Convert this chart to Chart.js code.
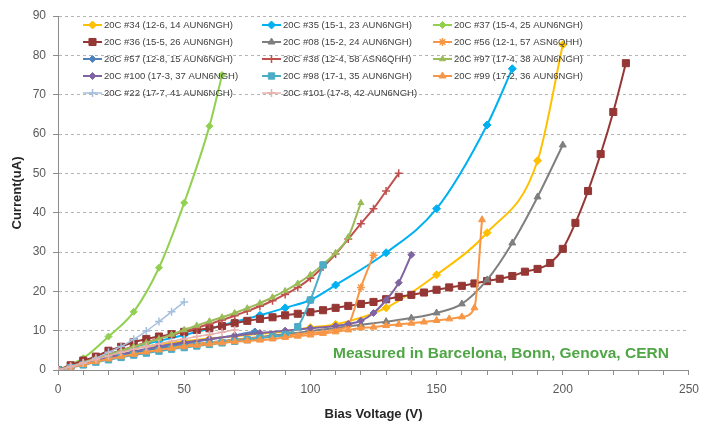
<!DOCTYPE html>
<html>
<head>
<meta charset="utf-8">
<script src="https://cdn.jsdelivr.net/npm/chart.js@4.4.1/dist/chart.umd.min.js"></script>
<style>
  html, body { margin: 0; padding: 0; background: #ffffff; }
  #iv { display: block; }
</style>
</head>
<body>
<canvas id="iv" width="706" height="424"></canvas>
<script>
// Leakage current (uA) versus bias voltage (V), one series per sensor

const v34 = [0, 10, 20, 30, 40, 50, 60, 70, 80, 90, 100, 110, 130, 150, 170, 190, 200];
const i34 = [0, 1.9, 3.7, 5.4, 6.5, 7.3, 8.0, 8.6, 9.2, 9.8, 10.8, 11.6, 15.8, 24.2, 34.9, 53.2, 82.7];

const v35 = [0, 10, 20, 30, 40, 50, 60, 70, 80, 90, 100, 110, 130, 150, 170, 180];
const i35 = [0, 2.0, 4.0, 5.8, 7.4, 8.9, 10.5, 12.2, 13.9, 15.8, 17.8, 21.6, 29.8, 41.0, 62.3, 76.6];

const v37 = [0, 10, 20, 30, 40, 50, 60, 65];
const i37 = [0, 3.0, 8.5, 14.8, 26.0, 42.5, 62.0, 75.0];

const v36 = [0, 5, 10, 15, 20, 25, 30, 35, 40, 45, 50, 55, 60, 65, 70, 75, 80, 85, 90, 95, 100, 105, 110,
             115, 120, 125, 130, 135, 140, 145, 150, 155, 160, 165, 170, 175, 180, 185, 190, 195, 200, 205,
             210, 215, 220, 225];
const i36 = [0, 1.2, 2.4, 3.4, 4.9, 5.9, 7.1, 7.9, 8.5, 9.1, 9.7, 10.2, 10.6, 11.2, 11.9, 12.5, 13.0, 13.4,
             13.9, 14.3, 14.7, 15.2, 15.8, 16.3, 16.8, 17.3, 18.0, 18.6, 19.1, 19.7, 20.4, 21.0, 21.4, 22.0,
             22.6, 23.2, 23.9, 25.0, 25.7, 27.2, 30.8, 37.4, 45.5, 54.9, 65.6, 78.0];

const v08 = [0, 10, 20, 30, 40, 50, 60, 70, 80, 90, 100, 110, 120, 130, 140, 150, 160, 170, 180, 190, 200];
const i08 = [0, 1.5, 3.0, 4.2, 5.3, 6.2, 7.0, 7.7, 8.4, 9.1, 9.9, 10.7, 11.5, 12.3, 13.2, 14.5, 16.8, 22.9,
             32.3, 44.0, 57.2];

const v56 = [0, 10, 20, 30, 40, 50, 60, 70, 80, 90, 100, 110, 115, 120, 125];
const i56 = [0, 1.5, 3.0, 4.3, 5.4, 6.3, 7.0, 7.6, 8.2, 8.8, 9.4, 10.2, 11.5, 21.0, 29.2];

const v57 = [0, 10, 20, 30, 40, 50, 60, 70, 78];
const i57 = [0, 1.6, 3.1, 4.4, 5.6, 6.7, 7.8, 8.8, 9.8];

const v38 = [0, 5, 10, 15, 20, 25, 30, 35, 40, 45, 50, 55, 60, 65, 70, 75, 80, 85, 90, 95, 100, 105, 110,
             115, 120, 125, 130, 135];
const i38 = [0, 1.0, 2.0, 3.0, 4.0, 5.0, 6.0, 7.0, 8.0, 8.9, 9.8, 10.7, 11.7, 12.7, 13.8, 15.0, 16.2, 17.6,
             19.2, 21.0, 23.3, 26.2, 29.5, 33.3, 37.2, 41.0, 45.5, 50.0];

const v97 = [0, 5, 10, 15, 20, 25, 30, 35, 40, 45, 50, 55, 60, 65, 70, 75, 80, 85, 90, 95, 100, 105, 110,
             115, 120];
const i97 = [0, 0.9, 1.9, 2.9, 3.9, 4.9, 5.9, 6.9, 7.9, 9.0, 10.2, 11.3, 12.4, 13.4, 14.5, 15.7, 17.0, 18.5,
             20.1, 22.0, 24.2, 26.8, 29.8, 33.8, 42.5];

const v100 = [0, 10, 20, 30, 40, 50, 60, 70, 80, 90, 100, 110, 115, 120, 125, 130, 135, 140];
const i100 = [0, 1.7, 3.3, 4.7, 6.0, 7.0, 7.9, 8.7, 9.4, 10.0, 10.6, 11.2, 11.7, 12.5, 14.5, 17.8, 22.2, 29.3];

const v98 = [0, 5, 10, 15, 20, 25, 30, 35, 40, 45, 50, 55, 60, 65, 70, 75, 80, 85, 90, 95, 100, 105];
const i98 = [0, 0.6, 1.3, 2.0, 2.6, 3.2, 3.8, 4.3, 4.8, 5.3, 5.7, 6.1, 6.5, 6.9, 7.3, 7.7, 8.1, 8.5, 9.0,
             11.0, 17.8, 26.7];

const v99 = [0, 5, 10, 15, 20, 25, 30, 35, 40, 45, 50, 55, 60, 65, 70, 75, 80, 85, 90, 95, 100, 105, 110,
             115, 120, 125, 130, 135, 140, 145, 150, 155, 160, 165, 168];
const i99 = [0, 0.7, 1.4, 2.1, 2.8, 3.4, 4.0, 4.6, 5.1, 5.5, 5.9, 6.3, 6.6, 6.9, 7.2, 7.4, 7.6, 7.9, 8.3,
             8.6, 8.9, 9.3, 9.7, 10.2, 10.7, 10.9, 11.3, 11.6, 11.9, 12.2, 12.6, 13.0, 13.5, 15.8, 38.2];

const v22 = [0, 5, 10, 15, 20, 25, 30, 35, 40, 45, 50];
const i22 = [0, 0.8, 1.8, 3.0, 4.5, 6.0, 7.8, 9.9, 12.3, 14.8, 17.3];

const v101 = [0, 5, 10, 15, 20, 25, 30, 35, 40, 45, 50, 55, 60, 65, 70];
const i101 = [0, 0.9, 1.8, 2.7, 3.6, 4.5, 5.3, 6.0, 6.7, 7.3, 7.9, 8.5, 9.0, 9.6, 10.2];

// series names, in legend order (three per row)
const sensorNames = [
  '20C #34 (12-6, 14 AUN6NGH)', '20C #35 (15-1, 23 AUN6NGH)', '20C #37 (15-4, 25 AUN6NGH)',
  '20C #36 (15-5, 26 AUN6NGH)', '20C #08 (15-2, 24 AUN6NGH)', '20C #56 (12-1, 57 ASN6QHH)',
  '20C #57 (12-8, 15 AUN6NGH)', '20C #38 (12-4, 58 ASN6QHH)', '20C #97 (17-4, 38 AUN6NGH)',
  '20C #100 (17-3, 37 AUN6NGH)', '20C #98 (17-1, 35 AUN6NGH)', '20C #99 (17-2, 36 AUN6NGH)',
  '20C #22 (17-7, 41 AUN6NGH)', '20C #101 (17-8, 42 AUN6NGH)'
];
const sensorVolts = [v34, v35, v37, v36, v08, v56, v57, v38, v97, v100, v98, v99, v22, v101];
const sensorAmps  = [i34, i35, i37, i36, i08, i56, i57, i38, i97, i100, i98, i99, i22, i101];

const xTicks = [0, 50, 100, 150, 200, 250];
const yTicks = [0, 10, 20, 30, 40, 50, 60, 70, 80, 90];

// line colour, marker shape, marker radius, line width
const looks = [
  { c: '#FFC000', s: 'rectRot',  r: 4,   w: 2 },
  { c: '#00B0F0', s: 'rectRot',  r: 4,   w: 2 },
  { c: '#92D050', s: 'rectRot',  r: 3.5, w: 2 },
  { c: '#953735', s: 'rect',     r: 5,   w: 2 },
  { c: '#7F7F7F', s: 'triangle', r: 4,   w: 2 },
  { c: '#F79646', s: 'star',     r: 4,   w: 2 },
  { c: '#4F81BD', s: 'rectRot',  r: 3.5, w: 2 },
  { c: '#C0504D', s: 'cross',    r: 4,   w: 2 },
  { c: '#9BBB59', s: 'triangle', r: 3.5, w: 2 },
  { c: '#8064A2', s: 'rectRot',  r: 3.5, w: 2 },
  { c: '#4BACC6', s: 'rect',     r: 4.5, w: 2 },
  { c: '#F79646', s: 'triangle', r: 4,   w: 2 },
  { c: '#A7BFDE', s: 'cross',    r: 4,   w: 1.5 },
  { c: '#E6B0AE', s: 'cross',    r: 4,   w: 1.5 }
];

const FONT = '"Liberation Sans", Arial, sans-serif';
Chart.defaults.font.family = FONT;

const datasets = sensorNames.map((name, k) => {
  const lk = looks[k];
  const crossLike = lk.s === 'cross' || lk.s === 'star' || lk.s === 'crossRot';
  return {
    label: name,
    data: sensorVolts[k].map((v, j) => ({ x: v, y: sensorAmps[k][j] })),
    borderColor: lk.c,
    backgroundColor: lk.c,
    borderWidth: lk.w,
    pointStyle: lk.s,
    pointRadius: lk.r,
    pointBackgroundColor: lk.c,
    pointBorderColor: lk.c,
    pointBorderWidth: crossLike ? 1.5 : 1,
    cubicInterpolationMode: 'monotone',
    fill: false,
    order: sensorNames.length - k
  };
});

// legend grid laid over the top of the plot, plus the measurement note
const overlay = {
  id: 'overlay',
  afterDatasetsDraw(chart) {
    const ctx = chart.ctx;
    const colX = [83, 262, 433];
    const rowY = [25, 42, 59, 76, 93];
    chart.data.datasets.forEach((ds, k) => {
      const x0 = colX[k % 3];
      const y = rowY[Math.floor(k / 3)];
      ctx.save();
      ctx.strokeStyle = ds.borderColor;
      ctx.lineWidth = ds.borderWidth;
      ctx.beginPath();
      ctx.moveTo(x0, y);
      ctx.lineTo(x0 + 19, y);
      ctx.stroke();
      ctx.fillStyle = ds.pointBackgroundColor;
      ctx.strokeStyle = ds.pointBorderColor;
      ctx.lineWidth = ds.pointBorderWidth;
      Chart.helpers.drawPoint(ctx, {
        pointStyle: ds.pointStyle,
        radius: ds.pointRadius,
        borderWidth: ds.pointBorderWidth,
        rotation: 0
      }, x0 + 9.5, y);
      ctx.fillStyle = '#404040';
      ctx.font = '9.5px ' + FONT;
      ctx.textAlign = 'left';
      ctx.textBaseline = 'middle';
      ctx.fillText(ds.label, x0 + 21, y + 0.5);
      ctx.restore();
    });

    ctx.save();
    ctx.fillStyle = '#4FA646';
    ctx.font = 'bold 15.5px ' + FONT;
    ctx.textAlign = 'left';
    ctx.textBaseline = 'middle';
    ctx.fillText('Measured in Barcelona, Bonn, Genova, CERN', 333, 354);
    ctx.restore();
  }
};

new Chart(document.getElementById('iv'), {
  type: 'line',
  data: { datasets },
  plugins: [overlay],
  options: {
    responsive: false,
    animation: false,
    events: [],
    layout: { padding: { left: 0, right: 11, top: 16, bottom: 0 } },
    plugins: { legend: { display: false }, tooltip: { enabled: false } },
    scales: {
      x: {
        type: 'linear',
        min: 0,
        max: 250,
        afterFit(scale) { scale.height = 54; },
        ticks: {
          stepSize: 10,
          autoSkip: false,
          maxRotation: 0,
          padding: 7,
          color: '#595959',
          font: { size: 12 },
          callback: (v) => (xTicks.includes(v) ? String(v) : '')
        },
        grid: { drawOnChartArea: false, drawTicks: true, tickLength: 5, color: '#8c8c8c' },
        border: { color: '#8c8c8c', width: 1 },
        title: {
          display: true,
          text: 'Bias Voltage (V)',
          color: '#262626',
          font: { size: 13, weight: 'bold' },
          padding: { top: 0, bottom: 2 }
        }
      },
      y: {
        min: 0,
        max: 90,
        afterFit(scale) { scale.width = 58; },
        afterBuildTicks(scale) { scale.ticks = yTicks.map((v) => ({ value: v })); },
        ticks: {
          padding: 7,
          color: '#595959',
          font: { size: 12 }
        },
        grid: { color: '#b4b4b4', lineWidth: 1, tickColor: '#8c8c8c', tickLength: 5 },
        border: { color: '#8c8c8c', width: 1, dash: [3, 3] },
        title: {
          display: true,
          text: 'Current(uA)',
          color: '#262626',
          font: { size: 13, weight: 'bold' },
          padding: { top: 10, bottom: 0 }
        }
      }
    }
  }
});
</script>
</body>
</html>
